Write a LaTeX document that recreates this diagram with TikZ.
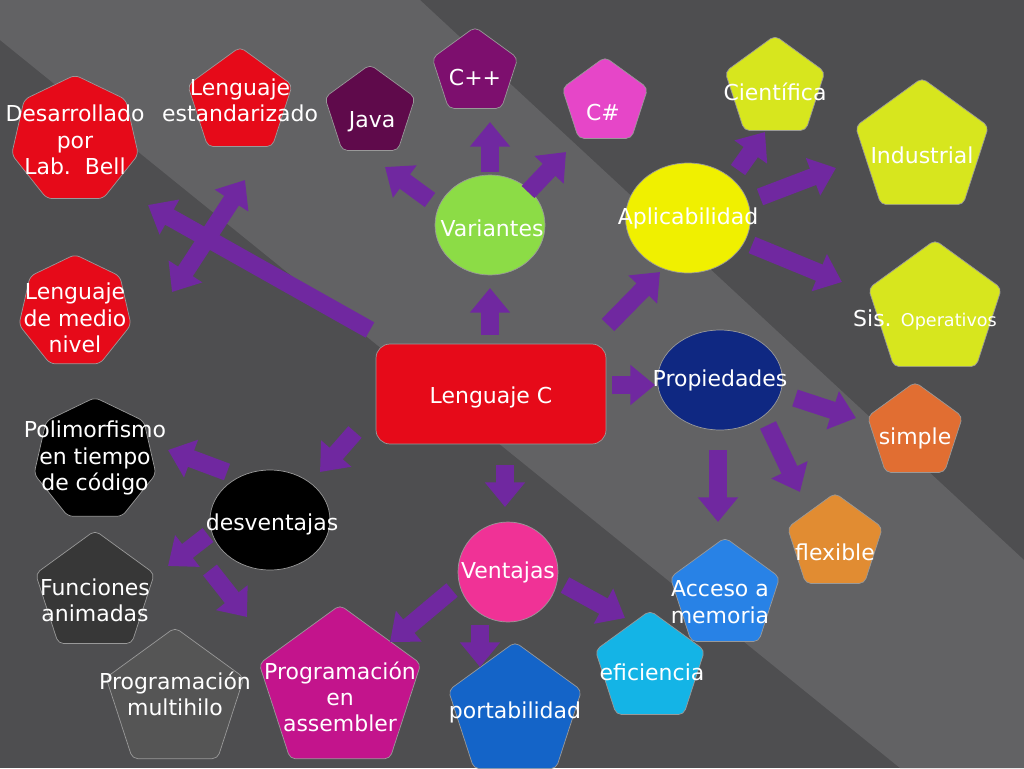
\documentclass[tikz,border=0pt]{standalone}
\usepackage{fontspec}
\setmainfont{DejaVu Sans}
\usetikzlibrary{arrows.meta,shapes.geometric}
\definecolor{bgdark}{RGB}{78,78,80}
\definecolor{bglight}{RGB}{98,98,100}
\definecolor{cred}{RGB}{230,10,25}
\definecolor{cpurple}{RGB}{112,40,160}
\definecolor{cjava}{RGB}{95,10,75}
\definecolor{ccpp}{RGB}{125,15,110}
\definecolor{csharp}{RGB}{230,70,200}
\definecolor{clime}{RGB}{215,230,30}
\definecolor{cgreen}{RGB}{140,220,70}
\definecolor{cyel}{RGB}{240,240,0}
\definecolor{cnavy}{RGB}{15,40,130}
\definecolor{cpink}{RGB}{240,50,150}
\definecolor{corange}{RGB}{225,110,50}
\definecolor{cflex}{RGB}{225,140,50}
\definecolor{cacc}{RGB}{40,130,230}
\definecolor{cefi}{RGB}{20,180,230}
\definecolor{cport}{RGB}{20,100,200}
\definecolor{casm}{RGB}{195,20,140}
\definecolor{cgray}{RGB}{85,85,85}
\definecolor{cfun}{RGB}{55,55,55}
\begin{document}
\begin{tikzpicture}[x=0.02cm,y=-0.02cm,
  every node/.style={font=\fontsize{12.5}{15}\selectfont},
  txt/.style={text=white,align=center,inner sep=0pt},
  pent/.style={regular polygon,regular polygon sides=5,draw=white!60!black,thin,inner sep=0pt,rounded corners=3pt,minimum size=#1},
  hept/.style={regular polygon,regular polygon sides=7,draw=white!60!black,thin,inner sep=0pt,rounded corners=3pt,minimum size=#1},
  blob/.style={ellipse,draw=white!60!black,thin,inner sep=0pt},
  barr/.style={-{Triangle[length=14pt,width=22pt]},line width=10pt,cpurple},
  darr/.style={{Triangle[length=14pt,width=22pt]}-{Triangle[length=14pt,width=22pt]},line width=10pt,cpurple}
]
% background
\fill[bgdark] (0,0) rectangle (1024,768);
\fill[bglight] (0,0) -- (420,0) -- (1024,560) -- (1024,768) -- (900,768) -- (0,40) -- cycle;
\useasboundingbox (0,0) rectangle (1024,768);

% centre
\node[draw=white!60!black,fill=cred,rounded corners=8pt,minimum width=4.6cm,minimum height=2cm] (lc) at (491,394) {};
\node[txt] at (491,397) {Lenguaje C};

% hubs
\node[blob,fill=cgreen,minimum width=2.2cm,minimum height=2cm] (var) at (490,225) {};
\node[blob,fill=cyel,minimum width=2.5cm,minimum height=2.2cm] (apl) at (688,218) {};
\node[blob,fill=cnavy,minimum width=2.5cm,minimum height=2cm] (pro) at (720,380) {};
\node[blob,fill=black,minimum width=2.4cm,minimum height=2cm] (des) at (270,520) {};
\node[blob,fill=cpink,minimum width=2cm,minimum height=2cm] (ven) at (508,572) {};
\node[txt] at (492,228) {Variantes};
\node[txt] at (688,218) {Aplicabilidad};
\node[txt] at (720,380) {Propiedades};
\node[txt] at (272,524) {desventajas};
\node[txt] at (508,572) {Ventajas};

% leaves
\node[hept=2.6cm,fill=cred] (lab) at (75,140) {};
\node[pent=2.2cm,fill=cred] (std) at (240,102) {};
\node[hept=2.3cm,fill=cred] (med) at (75,312) {};
\node[hept=2.5cm,fill=black] (pol) at (95,460) {};
\node[pent=1.9cm,fill=cjava] (java) at (370,112) {};
\node[pent=1.8cm,fill=ccpp] (cpp) at (475,72) {};
\node[pent=1.8cm,fill=csharp] (csh) at (605,102) {};
\node[pent=2.1cm,fill=clime] (cie) at (775,88) {};
\node[pent=2.8cm,fill=clime] (ind) at (922,148) {};
\node[pent=2.8cm,fill=clime] (sis) at (935,310) {};
\node[pent=2cm,fill=corange] (sim) at (915,432) {};
\node[pent=2cm,fill=cflex] (fle) at (835,543) {};
\node[pent=2.3cm,fill=cacc] (acc) at (725,595) {};
\node[pent=2.3cm,fill=cefi] (efi) at (650,668) {};
\node[pent=2.8cm,fill=cport] (por) at (515,712) {};
\node[pent=3.4cm,fill=casm] (asm) at (340,690) {};
\node[pent=2.9cm,fill=cgray] (mul) at (175,700) {};
\node[pent=2.5cm,fill=cfun] (fun) at (95,593) {};
\node[txt] at (75,140) {Desarrollado\\por\\Lab.\ \ Bell};
\node[txt] at (240,100) {Lenguaje\\estandarizado};
\node[txt] at (75,318) {Lenguaje\\de medio\\nivel};
\node[txt] at (95,458) {Polimorfismo\\en tiempo\\de código};
\node[txt] at (372,122) {Java};
\node[txt] at (475,78) {C++};
\node[txt] at (603,112) {C\#};
\node[txt] at (775,92) {Científica};
\node[txt] at (922,155) {Industrial};
\node[txt] at (925,320) {Sis. {\fontsize{10}{12}\selectfont Operativos}};
\node[txt] at (915,438) {simple};
\node[txt] at (835,552) {flexible};
\node[txt] at (720,602) {Acceso a\\memoria};
\node[txt] at (652,672) {eficiencia};
\node[txt] at (515,712) {portabilidad};
\node[txt] at (340,697) {Programación\\en\\assembler};
\node[txt] at (175,694) {Programación\\multihilo};
\node[txt] at (95,600) {Funciones\\animadas};

% arrow ends
\coordinate (c1) at (490,335); \coordinate (c1e) at (490,288);
\coordinate (c2) at (608,325); \coordinate (c2e) at (660,272);
\coordinate (c3) at (612,385); \coordinate (c3e) at (655,385);
\coordinate (c4) at (505,465); \coordinate (c4e) at (505,507);
\coordinate (c5) at (355,432); \coordinate (c5e) at (320,472);
\coordinate (c6) at (370,330); \coordinate (c6e) at (148,205);
\coordinate (m1) at (172,292); \coordinate (m1e) at (245,180);
\coordinate (v1) at (430,200); \coordinate (v1e) at (385,167);
\coordinate (v2) at (490,172); \coordinate (v2e) at (490,122);
\coordinate (v3) at (528,192); \coordinate (v3e) at (566,152);
\coordinate (a1) at (738,170); \coordinate (a1e) at (765,132);
\coordinate (a2) at (760,197); \coordinate (a2e) at (836,168);
\coordinate (a3) at (752,245); \coordinate (a3e) at (842,282);
\coordinate (p1) at (795,398); \coordinate (p1e) at (856,418);
\coordinate (p2) at (768,425); \coordinate (p2e) at (800,492);
\coordinate (p3) at (718,450); \coordinate (p3e) at (718,522);
\coordinate (e1) at (565,585); \coordinate (e1e) at (625,618);
\coordinate (e2) at (480,625); \coordinate (e2e) at (480,667);
\coordinate (e3) at (452,590); \coordinate (e3e) at (390,642);
\coordinate (d1) at (227,472); \coordinate (d1e) at (168,450);
\coordinate (d2) at (208,535); \coordinate (d2e) at (168,566);
\coordinate (d3) at (210,570); \coordinate (d3e) at (247,617);

% arrows
\foreach \s in {c1,c2,c3,c4,c5,c6,v1,v2,v3,a1,a2,a3,p1,p2,p3,e1,e2,e3,d1,d2,d3}
  \draw[barr] (\s) -- (\s e);
\draw[darr] (m1) -- (m1e);
\end{tikzpicture}
\end{document}
